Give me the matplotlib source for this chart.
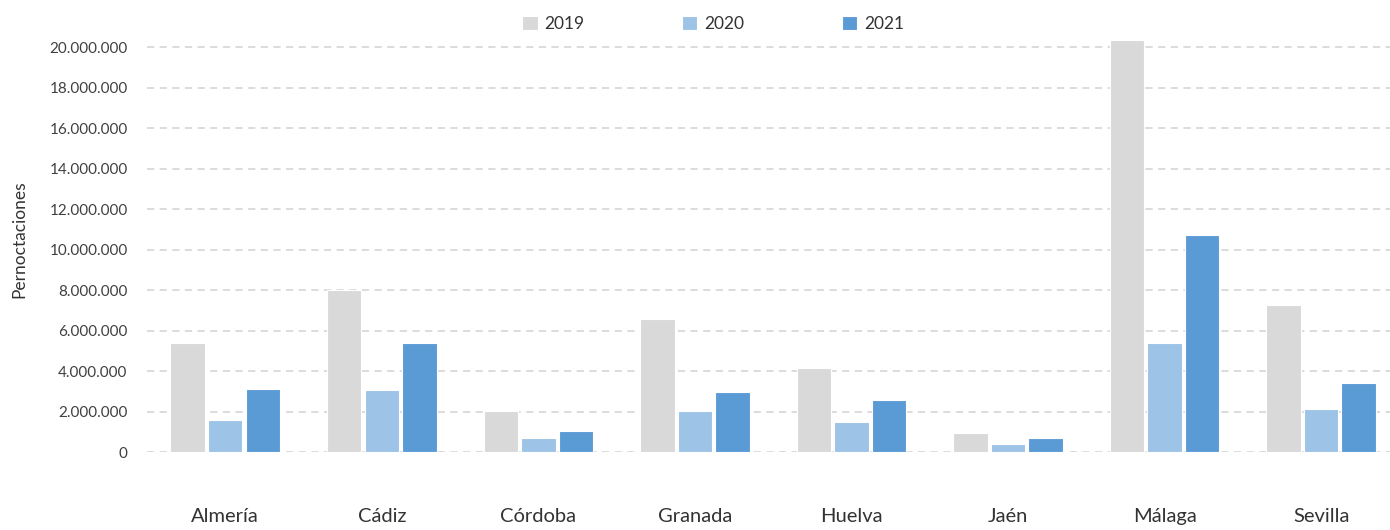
import matplotlib.pyplot as plt
import numpy as np
from matplotlib.ticker import FuncFormatter

provincias = ["Almería", "Cádiz", "Córdoba", "Granada", "Huelva", "Jaén", "Málaga", "Sevilla"]
anios = ["2019", "2020", "2021"]
v2019 = [5380000, 8000000, 2020000, 6570000, 4150000, 940000, 20350000, 7260000]
v2020 = [1580000, 3060000, 690000, 2020000, 1480000, 400000, 5370000, 2110000]
v2021 = [3110000, 5380000, 1040000, 2960000, 2570000, 690000, 10720000, 3420000]
colores = ["#d9d9d9", "#9dc3e6", "#5b9bd5"]

plt.rcParams['font.family'] = ['Lato', 'DejaVu Sans']

fig = plt.figure(figsize=(13.9, 5.3), dpi=100)
ax = fig.add_axes([147 / 1390, 78 / 530, 1243 / 1390, 425 / 530])

x = np.arange(len(provincias))
paso = 0.24
ancho = 0.22
for i, (serie, col) in enumerate(zip([v2019, v2020, v2021], colores)):
    ax.bar(x + (i - 1) * paso, serie, width=ancho, color=col,
           edgecolor="white", linewidth=0.8, label=anios[i], zorder=3)

ax.set_xlim(-0.5, 7.44)
ax.set_ylim(0, 21000000)
ax.set_yticks(np.arange(0, 20000001, 2000000))
ax.yaxis.set_major_formatter(FuncFormatter(lambda v, p: f"{int(v):,}".replace(",", ".")))
ax.set_xticks(x)
ax.set_xticklabels(provincias)

ax.grid(axis="y", color="#d9d9d9", linestyle=(0, (4, 3)), linewidth=1.3, zorder=0)
for s in ax.spines.values():
    s.set_visible(False)
ax.tick_params(axis="y", length=0, pad=14, labelsize=11, labelcolor="#404040")
ax.tick_params(axis="x", length=0, pad=40, labelsize=14.5, labelcolor="#333333")
ax.set_ylabel("Pernoctaciones", fontsize=12.5, color="#333333", labelpad=16)

fig.legend(loc="upper center", bbox_to_anchor=(0.513, 1.0), ncol=3, frameon=False,
           fontsize=12.5, handlelength=0.9, handleheight=0.9, columnspacing=5.6,
           handletextpad=0.4, labelcolor="#333333")

fig.savefig("out.png", dpi=100)
